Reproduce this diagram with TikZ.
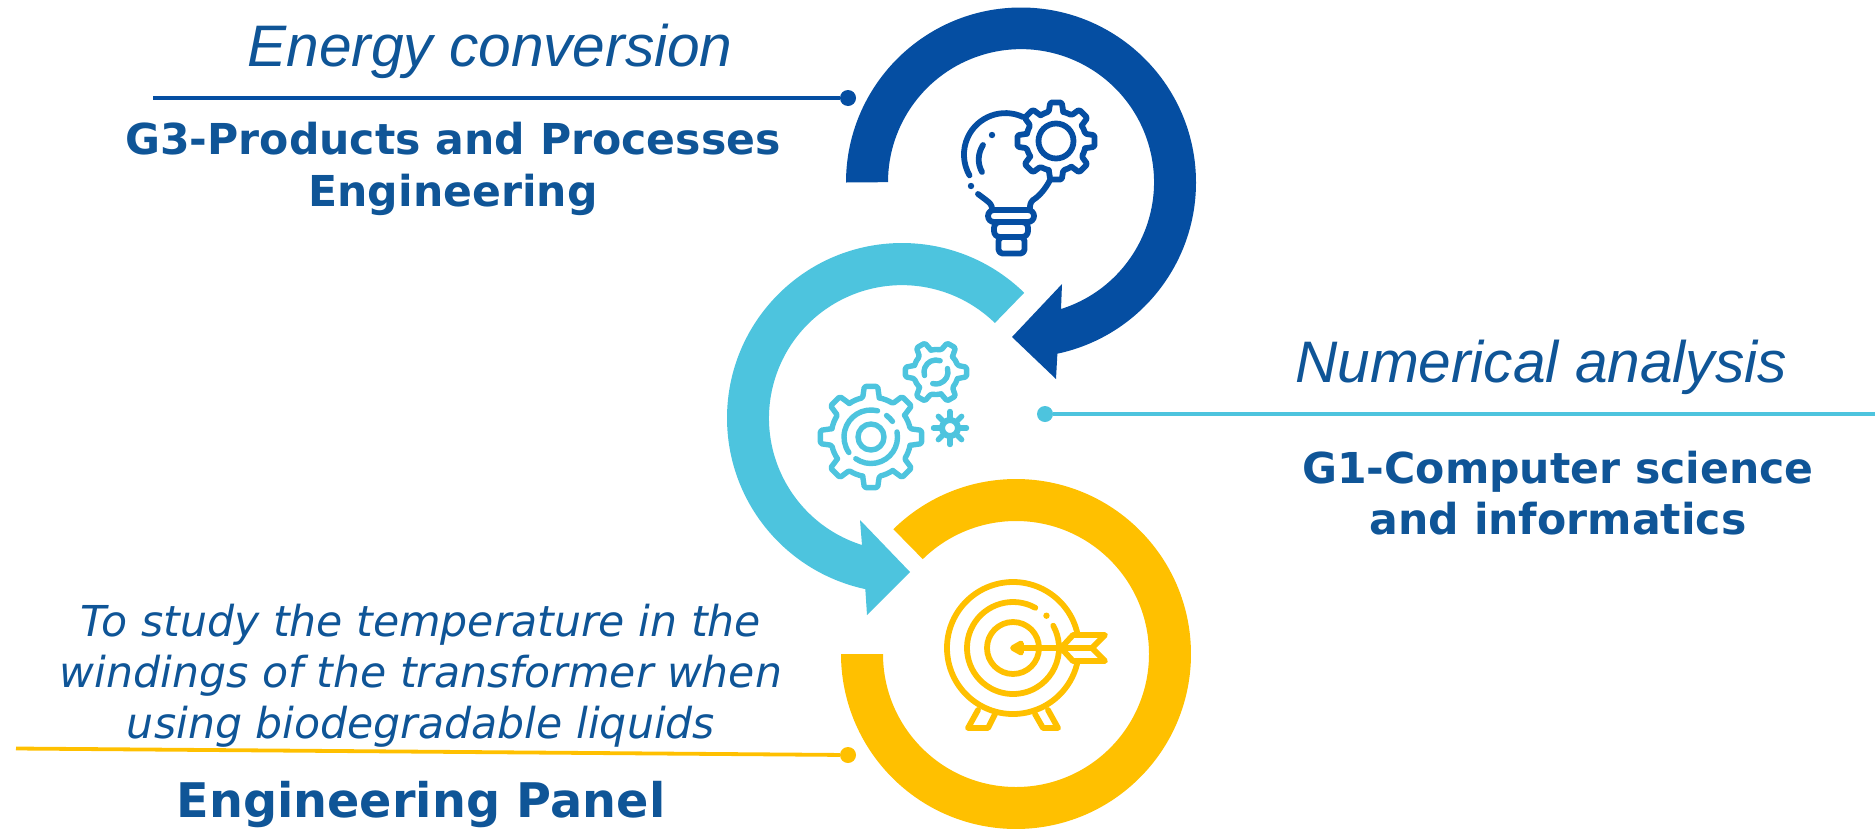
\documentclass[tikz,border=0pt]{standalone}
\usepackage{fontspec}
\setmainfont{DejaVu Sans}
\newfontfamily\arialfont{Liberation Sans}
\definecolor{ringblue}{HTML}{054EA2}
\definecolor{ringcyan}{HTML}{4DC4DE}
\definecolor{ringyellow}{HTML}{FFC000}
\definecolor{textblue}{HTML}{0F5597}
\tikzset{
  ringshape/.style={fill=#1,draw=none},
  leader/.style={draw=#1,line width=3.8pt},
  leaderdot/.style={circle,fill=#1,draw=none,inner sep=0pt,minimum size=16pt},
  iconline/.style={line width=#1,line cap=round,line join=round},
  headline/.style={anchor=base,text=textblue,inner sep=0pt,font=\arialfont\itshape\fontsize{58.6}{60}\selectfont},
  boldline/.style={anchor=base,text=textblue,inner sep=0pt,font=\bfseries\fontsize{42.6}{44}\selectfont},
  panelline/.style={anchor=base,text=textblue,inner sep=0pt,font=\bfseries\fontsize{47.7}{50}\selectfont},
  obliqueline/.style={anchor=base,text=textblue,inner sep=0pt,font=\itshape\fontsize{42.6}{44}\selectfont},
}
% #1 centre, #2 outer radius, #3 root radius, #4 teeth, #5 half tip angle, #6 half root angle
\newcommand{\gearicon}[6]{%
  \foreach \ang in {1,...,#4}{%
    \pgfmathsetmacro{\aa}{(\ang-1)*360/#4}
    \pgfmathsetmacro{\ab}{\aa+360/#4-#6}
    \draw[shift={#1},rounded corners=1.5pt]
      (\aa-#6:#3) -- (\aa-#5:#2) -- (\aa+#5:#2) -- (\aa+#6:#3)
      arc[start angle=\aa+#6,end angle=\ab,radius=#3];
  }%
}
\begin{document}
\begin{tikzpicture}[x=1pt,y=1pt]
\useasboundingbox (0,0) rectangle (1875,-828);
\clip (0,0) rectangle (1875,-828);
% rings
\coordinate (cb) at (1021,-182.5);
\coordinate (cc) at (902,-418);
\coordinate (cy) at (1016,-654);
\fill[ringshape=ringblue] (cb) ++(180:175) arc[start angle=180,end angle=-78,radius=175]
  -- (1056,-379) -- (1012,-337) -- (1062,-284) -- (1061,-309)
  arc[start angle=-72.5,end angle=180,radius=133] -- cycle;
\fill[ringshape=ringcyan] (cc) ++(45.7:175) arc[start angle=45.7,end angle=257.9,radius=175]
  -- (867,-615) -- (910,-572) -- (860,-520) -- (862,-545)
  arc[start angle=252.5,end angle=45.7,radius=133] -- cycle;
\fill[ringshape=ringyellow] (cy) ++(134.5:175) arc[start angle=134.5,end angle=-180,radius=175]
  -- ++(42,0) arc[start angle=-180,end angle=134.5,radius=133] -- cycle;
% leaders
\node[leaderdot=ringblue] (dotb) at (848,-98) {};
\coordinate (endb) at (153,-98);
\draw[leader=ringblue] (endb) -- (dotb);
\node[leaderdot=ringcyan] (dotc) at (1045,-414) {};
\coordinate (endc) at (1875,-414);
\draw[leader=ringcyan] (dotc) -- (endc);
\node[leaderdot=ringyellow] (doty) at (848,-755) {};
\coordinate (endy) at (16,-748.5);
\draw[leader=ringyellow] (endy) -- (doty);
% text
\node[headline] (t1) at (490,-66) {Energy conversion};
\node[boldline] (t2) at (453,-154) {G3-Products and Processes};
\node[boldline] (t3) at (453,-206) {Engineering};
\node[headline] (t4) at (1541,-382) {Numerical analysis};
\node[boldline] (t5) at (1558,-483) {G1-Computer science};
\node[boldline] (t6) at (1558,-534) {and informatics};
\node[obliqueline] (t7) at (421,-636) {To study the temperature in the};
\node[obliqueline] (t8) at (421,-687) {windings of the transformer when};
\node[obliqueline] (t9) at (421,-738) {using biodegradable liquids};
\node[panelline] (t10) at (421,-817) {Engineering Panel};
% bulb icon
\begin{scope}[draw=ringblue,iconline=5.8pt]
  \gearicon{(1056,-141)}{39}{30}{8}{8.5}{14}
  \draw (1056,-141) circle[radius=17.5];
  \draw (1023,-117) arc[start angle=65,end angle=210,radius=41.5];
  \draw (978,-194) -- (986,-200) .. controls (990,-203) and (992,-205) .. (992,-209);
  \draw (1050,-180) .. controls (1045,-190) and (1038,-197) .. (1033,-200) .. controls (1030,-203) and (1030,-205) .. (1030,-209);
  \draw (983,-145) .. controls (978,-153) and (977,-163) .. (982,-172);
  \fill[ringblue] (992,-135) circle[radius=3.2];
  \fill[ringblue] (971,-186) circle[radius=3.2];
  \draw[rounded corners=6pt] (988,-210) rectangle (1034,-222);
  \draw[rounded corners=6pt] (994,-222) rectangle (1028,-237);
  \draw[rounded corners=4pt] (998.5,-237) rectangle (1024.5,-253.5);
\end{scope}
% gears icon
\begin{scope}[draw=ringcyan,iconline=5.4pt]
  \gearicon{(871,-437)}{51}{40}{8}{7.5}{12}
  \draw (871,-437) circle[radius=13];
  \draw (871,-437) ++(76:27) arc[start angle=76,end angle=215,radius=27];
  \draw (871,-437) ++(36:26.5) arc[start angle=36,end angle=54,radius=26.5];
  \draw (871,-437) ++(11:26.5) arc[start angle=11,end angle=-125,radius=26.5];
  \gearicon{(936,-372)}{31}{22.5}{6}{9}{17}
  \draw (936,-372) ++(70:12) arc[start angle=70,end angle=197,radius=12];
  \draw (936,-372) ++(17:12) arc[start angle=17,end angle=-106,radius=12];
  \draw[line width=6pt] (950,-428) circle[radius=8];
  \foreach \sp in {0,45,...,315}{\draw[shift={(950,-428)}] (\sp:10) -- (\sp:16.5);}
\end{scope}
% target icon
\begin{scope}[draw=ringyellow,iconline=5.8pt]
  \draw (1013,-648) ++(12.5:66) arc[start angle=12.5,end angle=346,radius=66];
  \draw (1013,-648) ++(61:46) arc[start angle=61,end angle=355,radius=46];
  \draw (1013,-648) ++(29:46) arc[start angle=29,end angle=5,radius=46];
  \fill[ringyellow] (1013,-648) ++(44:46.5) circle[radius=3.2];
  \draw (1013,-648) circle[radius=26];
  \draw (1021,-648) -- (1092,-648);
  \filldraw[fill=ringyellow] (1013,-648) -- (1021,-643.5) -- (1021,-652.5) -- cycle;
  \draw (1061,-648) -- (1073,-635) -- (1105,-635) -- (1092,-648) -- (1105,-661) -- (1073,-661) -- cycle;
  \draw (978,-710) -- (968,-728) -- (988,-728) -- (995,-714);
  \draw (1035,-714) -- (1043,-728) -- (1058,-728) -- (1048,-710);
\end{scope}
\end{tikzpicture}
\end{document}
